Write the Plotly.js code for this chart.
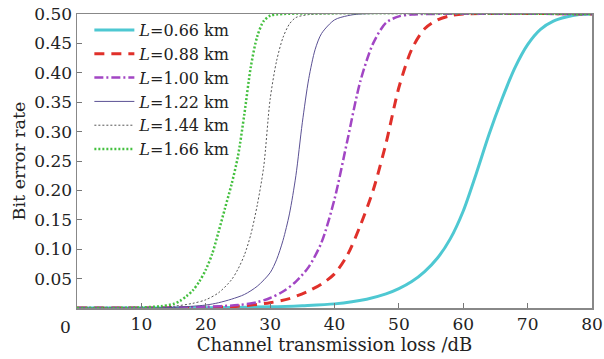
<!DOCTYPE html>
<html>
<head>
<meta charset="utf-8">
<script src="https://cdn.plot.ly/plotly-3.0.1.min.js"></script>
<style>html,body{margin:0;padding:0;background:#fff;}#chart{width:604px;height:359px;}</style>
</head>
<body>
<div id="chart"></div>
<script>
// Series names
const seriesNames = ["<i>L</i>=0.66 km", "<i>L</i>=0.88 km", "<i>L</i>=1.00 km", "<i>L</i>=1.22 km", "<i>L</i>=1.44 km", "<i>L</i>=1.66 km"];

// L = 0.66 km
const x066 = [0,10,20,30,35,40,45,48,50,52,54,56,58,60,62,64,66,68,70,72,74,76,78,80];
const y066 = [0,0,0.0005,0.002,0.004,0.007,0.015,0.024,0.033,0.045,0.062,0.085,0.118,0.165,0.228,0.295,0.355,0.408,0.448,0.474,0.488,0.495,0.499,0.5];
// L = 0.88 km
const x088 = [0,10,20,25,30,33,36,38,40,42,44,46,48,50,52,54,56,58,60,80];
const y088 = [0,0,0.001,0.003,0.009,0.016,0.029,0.041,0.058,0.09,0.14,0.2,0.28,0.375,0.44,0.475,0.49,0.497,0.5,0.5];
// L = 1.00 km
const x100 = [0,10,15,20,25,28,30,32,34,36,38,40,42,44,46,48,50,52,54,80];
const y100 = [0,0,0.0005,0.002,0.005,0.01,0.017,0.028,0.045,0.07,0.112,0.185,0.285,0.385,0.45,0.485,0.496,0.499,0.5,0.5];
// L = 1.22 km
const x122 = [0,10,15,20,22,24,26,28,30,31,32,33,34,35,36,37,38,40,42,44,80];
const y122 = [0,0,0.001,0.005,0.009,0.015,0.023,0.037,0.06,0.082,0.115,0.16,0.225,0.315,0.39,0.44,0.467,0.49,0.497,0.5,0.5];
// L = 1.44 km
const x144 = [0,10,15,18,20,22,24,25,26,27,28,29,30,31,32,33,34,36,38,80];
const y144 = [0,0.0005,0.003,0.008,0.014,0.026,0.048,0.066,0.09,0.125,0.175,0.24,0.355,0.42,0.46,0.483,0.494,0.499,0.5,0.5];
// L = 1.66 km
const x166 = [0,5,10,13,15,16,17,18,19,20,21,22,23,24,25,26,27,28,29,30,32,80];
const y166 = [0,0,0.001,0.003,0.007,0.012,0.02,0.03,0.045,0.065,0.092,0.13,0.17,0.21,0.258,0.33,0.41,0.462,0.488,0.497,0.5,0.5];

// Tick labels
const xTickVals = [0,10,20,30,40,50,60,70,80];
const xTickText = ["","10","20","30","40","50","60","70","80"];
const yTickVals = [0.05,0.10,0.15,0.20,0.25,0.30,0.35,0.40,0.45,0.50];
const yTickText = ["0.05","0.10","0.15","0.20","0.25","0.30","0.35","0.40","0.45","0.50"];

const FONT = "DejaVu Serif, serif";
const TXT = "#222";

const traces = [
  {x:x066, y:y066, name:seriesNames[0], line:{color:"#4ec8d2", width:3, dash:"solid", shape:"spline", smoothing:0.8}},
  {x:x088, y:y088, name:seriesNames[1], line:{color:"#e0302a", width:3, dash:"10px,7px", shape:"spline", smoothing:0.8}},
  {x:x100, y:y100, name:seriesNames[2], line:{color:"#a246c4", width:2.5, dash:"9px,3px,2px,3px", shape:"spline", smoothing:0.8}},
  {x:x122, y:y122, name:seriesNames[3], line:{color:"#5b5194", width:1, dash:"solid", shape:"spline", smoothing:0.8}},
  {x:x144, y:y144, name:seriesNames[4], line:{color:"#555555", width:1, dash:"2px,2px", shape:"spline", smoothing:0.8}},
  {x:x166, y:y166, name:seriesNames[5], line:{color:"#45c040", width:2.5, dash:"2px,2px", shape:"spline", smoothing:0.8}}
].map(t => Object.assign({type:"scatter", mode:"lines", cliponaxis:true}, t));

const layout = {
  width:604, height:359,
  margin:{l:77, r:12, t:14, b:51},
  paper_bgcolor:"#fff", plot_bgcolor:"#fff",
  font:{family:FONT, size:17, color:TXT},
  showlegend:true,
  legend:{x:0.024, y:1.003, xanchor:"left", yanchor:"top", bgcolor:"rgba(0,0,0,0)", borderwidth:0,
          font:{family:FONT, size:16, color:TXT}, itemwidth:40, tracegroupgap:0},
  xaxis:{range:[0,80], tickvals:xTickVals, ticktext:xTickText, ticks:"inside", ticklen:5, tickcolor:"#777",
         showline:true, linecolor:"#888", linewidth:1.5, mirror:true, showgrid:false, zeroline:false,
         tickfont:{family:FONT, size:17, color:TXT},
         title:{text:"Channel transmission loss /dB", font:{family:FONT, size:18, color:TXT}, standoff:3}},
  yaxis:{range:[0,0.5], tickvals:yTickVals, ticktext:yTickText, ticks:"inside", ticklen:5, tickcolor:"#777",
         showline:true, linecolor:"#888", linewidth:1.5, mirror:true, showgrid:false, zeroline:false,
         tickfont:{family:FONT, size:17, color:TXT},
         title:{text:"Bit error rate", font:{family:FONT, size:17.5, color:TXT}, standoff:4}},
  annotations:[{x:0, y:0, xref:"x", yref:"paper", text:"0", showarrow:false, xanchor:"center", yanchor:"top",
                xshift:-12, yshift:-7, font:{family:FONT, size:17, color:TXT}}]
};

Plotly.newPlot("chart", traces, layout, {displayModeBar:false, staticPlot:true});
</script>
</body>
</html>
